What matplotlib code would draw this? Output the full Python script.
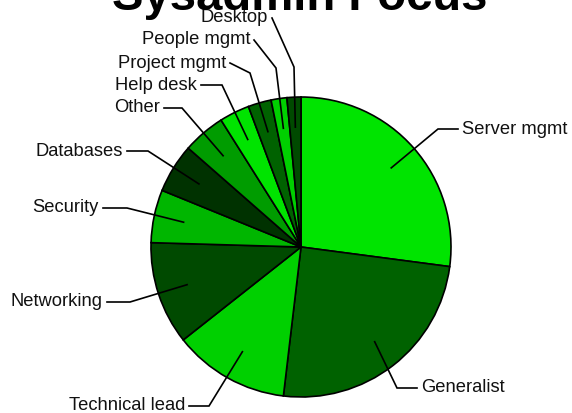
#!/usr/bin/env python3
"""Pie chart of sysadmin focus areas, saved to out.png."""

import numpy as np
import matplotlib
matplotlib.use("Agg")
import matplotlib.pyplot as plt

# data (percent of respondents)
categories = ["Server mgmt", "Generalist", "Technical lead", "Networking", "Security",
              "Databases", "Other", "Help desk", "Project mgmt", "People mgmt", "Desktop"]
shares = [27.1, 24.8, 12.5, 11.1, 5.7, 5.3, 4.6, 3.25, 2.5, 1.7, 1.5]

# seven greens, cycled
palette = ["#00e400", "#006200", "#00d000", "#004a00", "#00b600", "#003200", "#009c00"]

# label layout in pixels (text edge x, text y, knee point) - pie centre is (301, 247), r = 150
label_layout = [
    (462, 129, "left", (438, 129)),
    (421, 388, "left", (397, 388)),
    (185, 406, "right", (209, 406)),
    (103, 302, "right", (130, 302)),
    (99, 208, "right", (127, 208)),
    (123, 151, "right", (148, 151)),
    (160, 108, "right", (182, 108)),
    (197, 85, "right", (222, 85)),
    (226, 63, "right", (250, 73)),
    (250, 40, "right", (276, 68)),
    (268, 18, "right", (294, 67)),
]

W, H = 572, 413
CX, CY, R = 301, 247, 150


def px(x, y):
    # pixel position (top-left origin) -> pie data coords
    return (x - CX) / R, (CY - y) / R


plt.rcParams["font.family"] = ["Liberation Sans", "DejaVu Sans"]

fig = plt.figure(figsize=(W / 100, H / 100), dpi=100)
ax = fig.add_axes([(CX - R) / W, (H - CY - R) / H, 2 * R / W, 2 * R / H])

colors = [palette[i % len(palette)] for i in range(len(shares))]
wedges, _ = ax.pie(shares, colors=colors, startangle=90, counterclock=False,
                   wedgeprops=dict(edgecolor="black", linewidth=1.2))
for w in wedges:
    w.set_clip_on(False)
ax.set_xlim(-1, 1)
ax.set_ylim(-1, 1)
ax.set_aspect("equal")
ax.axis("off")

for w, name, (tx, ty, ha, knee) in zip(wedges, categories, label_layout):
    mid = np.deg2rad((w.theta1 + w.theta2) / 2)
    ax_, ay_ = 0.8 * np.cos(mid), 0.8 * np.sin(mid)
    gap = 4 if ha == "left" else -4
    sx, sy = px(tx - gap, ty)
    kx, ky = px(*knee)
    ax.plot([sx, kx, ax_], [sy, ky, ay_], color="black", lw=1.2, clip_on=False,
            solid_joinstyle="miter")
    x0, y0 = px(tx, ty)
    ax.text(x0, y0, name, ha=ha, va="center", fontsize=13.2, color="#111111")

fig.text(300 / W, 1 - 10 / H, "Sysadmin Focus", ha="center", va="baseline",
         fontsize=34, fontweight="bold")

fig.savefig("out.png", dpi=100)
